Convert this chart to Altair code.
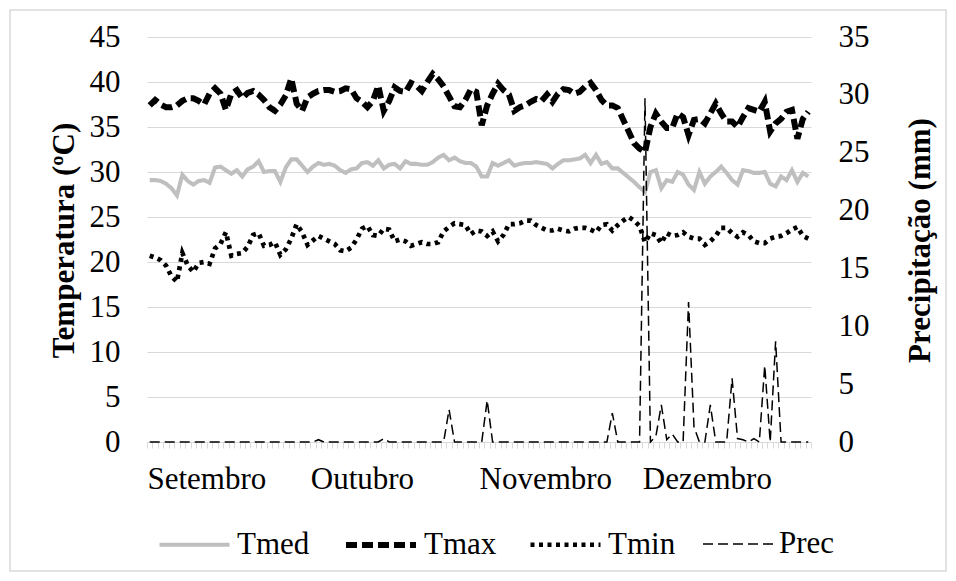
import altair as alt
import pandas as pd

# ---- data (daily, 1 Sep - 31 Dec) ----
tmed = [29.1, 29.1, 29.0, 28.7, 28.2, 27.4, 29.7, 29.0, 28.6, 29.0, 29.1, 28.8, 30.5, 30.6, 30.2, 29.8, 30.2, 29.5, 30.3, 30.6,
        31.2, 30.0, 30.1, 30.1, 28.9, 30.5, 31.4, 31.4, 30.7, 30.0, 30.6, 31.0, 30.8, 30.9, 30.7, 30.2, 29.9, 30.3, 30.4, 31.0,
        31.1, 30.7, 31.3, 30.4, 30.8, 30.9, 30.4, 31.2, 30.9, 30.9, 30.8, 30.8, 31.1, 31.6, 31.9, 31.3, 31.6, 31.2, 31.0, 31.0,
        30.6, 29.5, 29.5, 31.0, 30.7, 31.0, 31.3, 30.7, 30.9, 31.0, 31.0, 31.1, 31.0, 30.9, 30.4, 30.9, 31.3, 31.3, 31.4, 31.5,
        31.9, 31.0, 31.9, 30.9, 31.1, 30.4, 30.4, 29.9, 29.4, 28.9, 28.3, 27.8, 30.0, 30.2, 28.2, 29.1, 28.9, 30.0, 29.7, 28.6,
        28.0, 30.0, 28.7, 29.5, 30.0, 30.6, 29.9, 29.1, 28.6, 30.2, 30.1, 29.9, 29.9, 30.0, 28.7, 28.4, 29.5, 29.1, 30.2, 28.9,
        29.9, 29.5]
tmax = [37.4, 38.0, 37.5, 37.2, 37.2, 37.4, 37.9, 38.2, 38.2, 37.9, 37.5, 38.7, 39.3, 38.7, 36.9, 38.7, 39.1, 38.2, 38.8, 39.0,
        38.6, 38.0, 37.2, 36.8, 37.5, 38.5, 40.4, 37.6, 36.8, 38.3, 38.7, 39.0, 39.1, 39.1, 38.9, 39.0, 39.3, 39.2, 38.2, 37.8,
        37.2, 37.9, 39.6, 36.8, 37.9, 39.4, 39.0, 38.9, 39.9, 39.6, 39.0, 40.0, 40.9, 40.3, 39.5, 38.4, 37.3, 37.2, 38.0, 39.2,
        38.9, 35.2, 37.4, 38.7, 39.8, 39.1, 38.6, 36.8, 37.2, 37.4, 37.8, 38.1, 37.9, 38.6, 37.8, 38.7, 39.2, 39.1, 38.7, 38.9,
        39.5, 39.9, 39.1, 38.0, 37.4, 37.4, 37.1, 35.8, 34.5, 33.2, 32.6, 32.2, 35.0, 36.5, 35.6, 34.9, 34.9, 36.5, 36.1, 34.1,
        35.8, 35.9, 35.4, 36.5, 37.6, 36.5, 35.6, 35.6, 35.0, 36.1, 37.1, 36.9, 36.7, 37.8, 34.5, 35.4, 35.9, 36.7, 36.9, 33.7,
        35.9, 36.7]
tmin = [20.7, 20.5, 20.2, 19.6, 18.4, 17.8, 21.0, 19.6, 18.9, 19.9, 20.0, 19.8, 21.5, 22.0, 23.3, 20.7, 20.9, 21.0, 21.7, 23.0,
        23.2, 21.8, 21.9, 22.2, 20.8, 21.4, 22.6, 24.2, 23.3, 21.9, 22.4, 22.9, 22.6, 22.3, 22.0, 21.3, 21.2, 21.6, 22.5, 23.7,
        24.0, 23.0, 22.9, 23.7, 23.6, 22.3, 22.5, 22.3, 21.8, 22.0, 22.2, 22.0, 22.0, 22.2, 23.4, 23.9, 24.3, 24.2, 24.1, 23.1,
        23.5, 23.4, 22.9, 23.4, 22.3, 23.0, 24.2, 24.2, 24.3, 24.6, 24.6, 24.1, 23.8, 23.5, 23.5, 23.7, 23.5, 23.4, 23.7, 23.8,
        23.8, 23.6, 23.3, 24.1, 24.2, 23.5, 24.1, 24.6, 25.0, 24.6, 24.0, 22.2, 23.2, 23.0, 22.1, 23.2, 22.9, 23.0, 23.3, 22.8,
        22.6, 22.6, 21.9, 22.3, 22.9, 23.8, 23.8, 23.2, 22.8, 23.3, 23.0, 22.3, 22.1, 22.1, 22.6, 22.8, 22.9, 23.2, 23.6, 23.9,
        22.9, 22.6]
prec = [0.0] * 122
prec_events = {31: 0.2, 43: 0.3, 55: 2.8, 62: 3.6, 85: 2.5, 91: 29.7, 93: 0.5, 94: 3.2, 95: 0.2, 96: 0.7,
               99: 12.1, 100: 1.3, 103: 3.2, 107: 5.5, 108: 0.3, 109: 0.2, 111: 0.3, 113: 6.6, 115: 8.7}
for k, v in prec_events.items():
    prec[k] = v

months = ["Setembro", "Outubro", "Novembro", "Dezembro"]
month_start = [0, 30, 61, 91]

series = ["Tmed", "Tmax", "Tmin", "Prec"]
# shared scale domain ordered by stroke width (point scale 1.5 -> 6); "_x" are unused slots
domain = ["Prec", "_a", "_b", "_c", "Tmed", "Tmin", "_d", "Tmax"]
colors = ["#000000", "#000000", "#000000", "#000000", "#bfbfbf", "#000000", "#000000", "#000000"]
dashes = [[10, 5], [1, 0], [1, 0], [1, 0], [1, 0], [4, 4.5], [1, 0], [11, 5]]
width_range = [1.5, 6]

df = pd.DataFrame({"dia": list(range(122)), "Tmed": tmed, "Tmax": tmax, "Tmin": tmin, "Prec": prec})

FONT = "Liberation Serif"
FS = 31

tick_vals = [v - 0.5 for v in range(123)]
label_expr = " : ".join(
    [f"datum.value == {s - 0.5} ? '{m}'" for s, m in zip(month_start, months)]
) + " : ''"

x_enc = alt.X(
    "dia:Q",
    scale=alt.Scale(domain=[-0.5, 121.5], nice=False, zero=False),
    axis=alt.Axis(
        title=None, values=tick_vals, labelExpr=label_expr, labelAlign="left", labelFlush=False,
        labelOverlap=False, labelPadding=16, labelFontSize=FS, labelFont=FONT,
        labelColor="#000000", tickSize=6, tickColor="#d9d9d9", domainColor="#d9d9d9", grid=False,
    ),
)

leg = dict(title=None, values=series)
color_enc = alt.Color("serie:N", scale=alt.Scale(domain=domain, range=colors), legend=alt.Legend(**leg))
dash_enc = alt.StrokeDash("serie:N", scale=alt.Scale(domain=domain, range=dashes), legend=alt.Legend(**leg))
width_enc = alt.StrokeWidth("serie:N", scale=alt.Scale(type="point", domain=domain, range=width_range,
                                                       padding=0), legend=alt.Legend(**leg))

temp = alt.Chart(df).transform_fold(["Tmed", "Tmax", "Tmin"], as_=["serie", "valor"]).mark_line().encode(
    x=x_enc,
    y=alt.Y("valor:Q", scale=alt.Scale(domain=[0, 45], nice=False),
            axis=alt.Axis(title="Temperatura (ºC)", values=list(range(0, 50, 5)), orient="left",
                          tickSize=0, domain=False, labelPadding=27, labelFontSize=FS, labelFont=FONT,
                          labelColor="#000000", gridColor="#d9d9d9", titleFont=FONT, titleFontSize=FS,
                          titleFontWeight="bold", titleColor="#000000", titleAngle=270,
                          titleX=-83, titleY=203, titleAlign="center", titleBaseline="middle")),
    color=color_enc, strokeDash=dash_enc, strokeWidth=width_enc,
)

precl = alt.Chart(df).transform_fold(["Prec"], as_=["serie", "valor"]).mark_line().encode(
    x=x_enc,
    y=alt.Y("valor:Q", scale=alt.Scale(domain=[0, 35], nice=False),
            axis=alt.Axis(title="Precipitação (mm)", values=list(range(0, 40, 5)), orient="right",
                          tickSize=0, domain=False, grid=False, labelPadding=27, labelFontSize=FS,
                          labelFont=FONT, labelColor="#000000", titleFont=FONT, titleFontSize=FS,
                          titleFontWeight="bold", titleColor="#000000", titleAngle=270,
                          titleX=109, titleY=203, titleAlign="center", titleBaseline="middle")),
    color=color_enc, strokeDash=dash_enc, strokeWidth=width_enc,
)

frame = alt.Chart(pd.DataFrame({"k": [0]})).mark_rect(filled=False, stroke="#d9d9d9", strokeWidth=1.5).encode(
    x=alt.value(-137), x2=alt.value(799), y=alt.value(-27), y2=alt.value(534)
)

chart = alt.layer(temp, precl, frame).resolve_scale(y="independent").properties(
    width=664, height=405,
    autosize=alt.AutoSizeParams(type="none"),
    padding={"left": 139, "top": 29, "right": 137, "bottom": 131},
).configure_view(stroke=None).configure_legend(
    orient="none", legendX=10, legendY=470, direction="horizontal", symbolType="stroke",
    symbolSize=4900, labelFontSize=FS, labelFont=FONT, labelColor="#000000", columnPadding=24,
    labelOffset=5, symbolOffset=0, labelLimit=0,
)

chart.save("out.html", embed_options={"renderer": "svg", "actions": False})
